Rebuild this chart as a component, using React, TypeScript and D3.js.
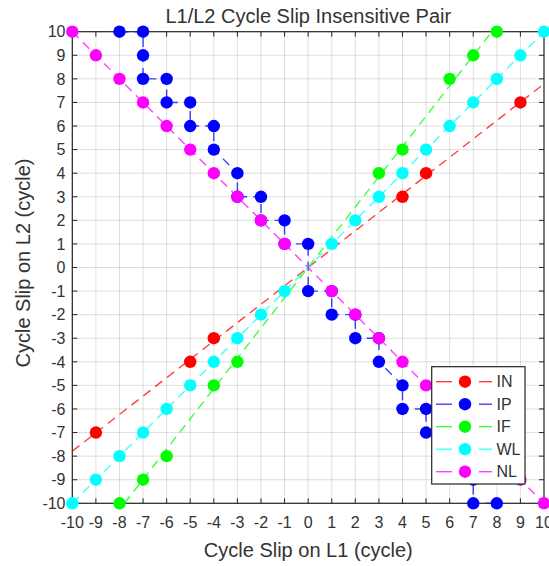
import React from "react";
import * as d3 from "d3";

const TICKS = [-10, -9, -8, -7, -6, -5, -4, -3, -2, -1, 0, 1, 2, 3, 4, 5, 6, 7, 8, 9, 10];

const IN_PTS: [number, number][] = [[-9, -7], [-5, -4], [-4, -3], [4, 3], [5, 4], [9, 7]];
const IN_LINE: [number, number][] = [[-10, -7.79], [10, 7.79]];

const IP_PTS: [number, number][] = [
  [-8, 10], [-7, 10], [-7, 9], [-7, 8], [-6, 8], [-6, 7], [-5, 7], [-5, 6], [-4, 6], [-4, 5],
  [-3, 4], [-3, 3], [-2, 3], [-2, 2], [-1, 2], [-1, 1], [0, 1], [0, -1], [1, -1], [1, -2],
  [2, -2], [2, -3], [3, -3], [3, -4], [4, -5], [4, -6], [5, -6], [5, -7], [6, -7], [6, -8],
  [7, -8], [7, -9], [7, -10], [8, -10],
];

const IF_PTS: [number, number][] = [[-8, -10], [-7, -9], [-6, -8], [-4, -5], [-3, -4], [3, 4], [4, 5], [6, 8], [7, 9], [8, 10]];
const IF_LINE: [number, number][] = [[-7.79, -10], [7.79, 10]];

const WL_PTS: [number, number][] = [
  [-10, -10], [-9, -9], [-8, -8], [-7, -7], [-6, -6], [-5, -5], [-4, -4], [-3, -3], [-2, -2], [-1, -1],
  [1, 1], [2, 2], [3, 3], [4, 4], [5, 5], [6, 6], [7, 7], [8, 8], [9, 9], [10, 10],
];
const WL_LINE: [number, number][] = [[-10, -10], [10, 10]];

const NL_PTS: [number, number][] = [
  [-10, 10], [-9, 9], [-8, 8], [-7, 7], [-6, 6], [-5, 5], [-4, 4], [-3, 3], [-2, 2], [-1, 1],
  [1, -1], [2, -2], [3, -3], [4, -4], [5, -5], [6, -6], [7, -7], [8, -8], [9, -9], [10, -10],
];
const NL_LINE: [number, number][] = [[-10, 10], [10, -10]];

const SERIES = [
  { name: "IN", color: "#ff0000", pts: IN_PTS, line: IN_LINE },
  { name: "IP", color: "#0000ff", pts: IP_PTS, line: IP_PTS },
  { name: "IF", color: "#00ff00", pts: IF_PTS, line: IF_LINE },
  { name: "WL", color: "#00ffff", pts: WL_PTS, line: WL_LINE },
  { name: "NL", color: "#ff00ff", pts: NL_PTS, line: NL_LINE },
];

const TITLE = "L1/L2 Cycle Slip Insensitive Pair";
const XLABEL = "Cycle Slip on L1 (cycle)";
const YLABEL = "Cycle Slip on L2 (cycle)";

export default function App() {
  const L = 72.3, R = 544, T = 31.7, B = 503.3;
  const x = d3.scaleLinear().domain([-10, 10]).range([L, R]);
  const y = d3.scaleLinear().domain([-10, 10]).range([B, T]);
  const line = d3.line<[number, number]>().x((d) => x(d[0])).y((d) => y(d[1]));
  const axisColor = "#262626";
  const textColor = "#333333";
  const font = "Liberation Sans, Arial, sans-serif";
  const tickLen = 5;
  const mr = 6.2;

  const legX = 431.7, legY = 366.7, legW = 93.3, legH = 117.3;
  const legRowY = (i: number) => 381.7 + i * 22.5;

  return (
    <svg width={549} height={566} style={{ position: "absolute", left: 0, top: 0 }} fontFamily={font}>
      <rect x={0} y={0} width={549} height={566} fill="#ffffff" />
      <defs>
        <clipPath id="plotclip">
          <rect x={L} y={T} width={R - L} height={B - T} />
        </clipPath>
      </defs>
      {/* grid */}
      <g stroke={axisColor} strokeOpacity={0.15} strokeWidth={1}>
        {TICKS.map((t) => (
          <line key={"gx" + t} x1={x(t)} x2={x(t)} y1={T} y2={B} />
        ))}
        {TICKS.map((t) => (
          <line key={"gy" + t} x1={L} x2={R} y1={y(t)} y2={y(t)} />
        ))}
      </g>
      {/* ticks */}
      <g stroke={axisColor} strokeWidth={1}>
        {TICKS.map((t) => (
          <g key={"t" + t}>
            <line x1={x(t)} x2={x(t)} y1={B} y2={B - tickLen} />
            <line x1={x(t)} x2={x(t)} y1={T} y2={T + tickLen} />
            <line x1={L} x2={L + tickLen} y1={y(t)} y2={y(t)} />
            <line x1={R} x2={R - tickLen} y1={y(t)} y2={y(t)} />
          </g>
        ))}
      </g>
      <rect x={L} y={T} width={R - L} height={B - T} fill="none" stroke={axisColor} strokeWidth={1.2} />
      {/* tick labels */}
      <g fill={textColor} fontSize={16}>
        {TICKS.map((t) => (
          <text key={"xl" + t} x={x(t)} y={528} textAnchor="middle">
            {String(t)}
          </text>
        ))}
        {TICKS.map((t) => (
          <text key={"yl" + t} x={65.5} y={y(t)} dy="0.36em" textAnchor="end">
            {String(t)}
          </text>
        ))}
      </g>
      {/* series */}
      {SERIES.map((s) => (
        <g key={s.name}>
          <path
            d={line(s.line) || ""}
            fill="none"
            stroke={s.color}
            strokeWidth={1.4}
            strokeOpacity={0.75}
            strokeDasharray="9,6"
            clipPath="url(#plotclip)"
          />
          {s.pts.map((p, i) => (
            <circle key={i} cx={x(p[0])} cy={y(p[1])} r={mr} fill={s.color} />
          ))}
        </g>
      ))}
      {/* legend */}
      <g>
        <rect x={legX} y={legY} width={legW} height={legH} fill="#ffffff" stroke={axisColor} strokeWidth={1.2} />
        {SERIES.map((s, i) => (
          <g key={"lg" + s.name}>
            <line x1={436} x2={452} y1={legRowY(i)} y2={legRowY(i)} stroke={s.color} strokeWidth={1.4} strokeOpacity={0.75} />
            <line x1={479} x2={492} y1={legRowY(i)} y2={legRowY(i)} stroke={s.color} strokeWidth={1.4} strokeOpacity={0.75} />
            <circle cx={465} cy={legRowY(i)} r={mr} fill={s.color} />
            <text x={496.5} y={legRowY(i)} dy="0.36em" fontSize={16} fill={textColor}>
              {s.name}
            </text>
          </g>
        ))}
      </g>
      {/* labels */}
      <text x={308.3} y={22.5} textAnchor="middle" fontSize={20} fill={textColor}>
        {TITLE}
      </text>
      <text x={308.3} y={557} textAnchor="middle" fontSize={20} fill={textColor}>
        {XLABEL}
      </text>
      <text
        transform={`translate(29.5, 263) rotate(-90)`}
        textAnchor="middle"
        fontSize={20}
        fill={textColor}
      >
        {YLABEL}
      </text>
    </svg>
  );
}
